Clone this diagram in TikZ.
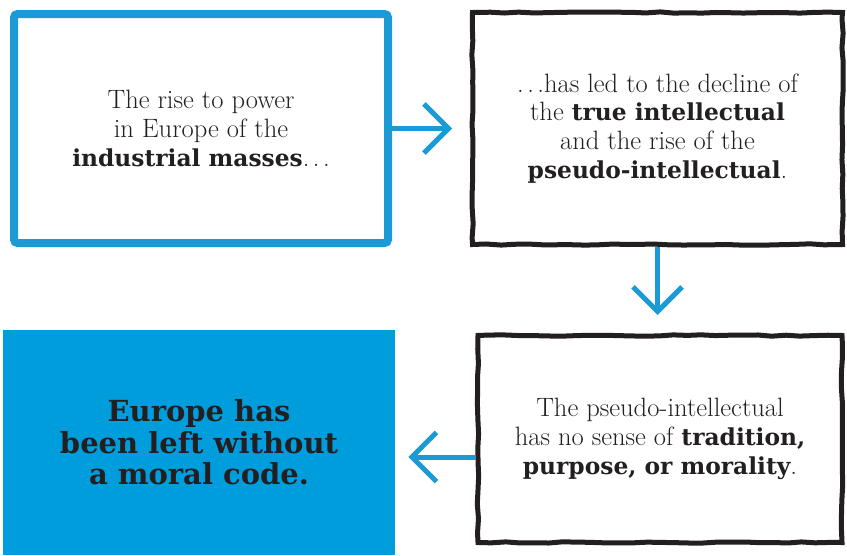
\documentclass[tikz,border=0pt]{standalone}
\usepackage{fontspec}
\usetikzlibrary{arrows.meta,positioning,decorations.pathmorphing}
\definecolor{ideablue}{HTML}{1C9AD6}
\definecolor{ideafill}{HTML}{009DDC}
\definecolor{inkgrey}{HTML}{231F20}
\newfontfamily\slabfont{DejaVu Serif}
\newfontfamily\slabsmall{DejaVu Serif}[Scale=0.88]
\newcommand{\keyterm}[1]{{\slabsmall\bfseries #1}}
\newcommand{\trail}{.\kern2pt.\kern2pt.}

\begin{document}
\begin{tikzpicture}[
    textbox/.style={align=center, text=inkgrey, font=\fontsize{15.1}{16.4}\selectfont, inner sep=0pt},
    blueframe/.style={textbox, draw=ideablue, line width=0.16cm, rounded corners=2pt, minimum width=7.48cm, minimum height=4.58cm},
    inkframe/.style={textbox, draw=inkgrey, line width=0.1cm, decorate, decoration={random steps, segment length=8pt, amplitude=0.4pt}},
    flow/.style={-{Straight Barb[length=14pt,width=28pt]}, line width=0.1cm, ideablue}
  ]
  \useasboundingbox (0,0) rectangle (16.94,11.1);

  % the four steps
  \node[blueframe] (rise) at (4.02,8.53)
    {The rise to power\\ in Europe of the\\ \keyterm{industrial masses}\trail};
  \node[inkframe, minimum width=7.4cm, minimum height=4.64cm] (decline) at (13.15,8.53)
    {\trail{}has led to the decline of\\ the \keyterm{true intellectual}\\ and the rise of the\\ \keyterm{pseudo-intellectual}.};
  \node[inkframe, minimum width=7.28cm, minimum height=4.14cm] (pseudo) at (13.2,2.32)
    {The pseudo-intellectual\\ has no sense of \keyterm{tradition,}\\ \keyterm{purpose, or morality}.};
  \node[fill=ideafill, text=inkgrey, align=center, minimum width=7.84cm, minimum height=4.5cm,
        font=\slabfont\bfseries\fontsize{16.5}{18}\selectfont] (moral) at (3.98,2.25)
    {Europe has\\ been left without\\ a moral code.};

  % connectors
  \draw[flow, shorten >=0.36cm] (rise.east) -- (decline.west);
  \draw[flow, shorten >=0.36cm] (decline.south) -- (decline.south |- pseudo.north);
  \draw[flow, shorten >=0.26cm] ([yshift=-0.36cm]pseudo.west) -- ([yshift=-0.36cm]pseudo.west -| moral.east);
\end{tikzpicture}
\end{document}
